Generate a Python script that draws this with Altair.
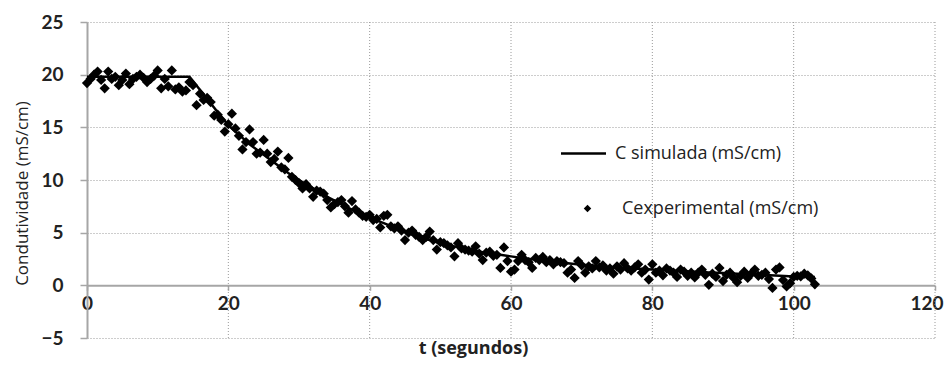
import altair as alt
import pandas as pd

SIM = "C simulada (mS/cm)"
EXP = "Cexperimental (mS/cm)"

# simulated curve
t_sim = [0, 14.5, 15, 16, 17, 18, 19, 20, 21, 22, 23, 24, 25, 26, 27, 28, 29, 30, 32, 34,
         36, 38, 40, 42, 44, 46, 48, 50, 52, 54, 56, 58, 60, 62, 64, 66, 68, 70, 72, 74,
         76, 78, 80, 82, 84, 86, 88, 90, 92, 94, 96, 98, 100, 102, 103]
c_sim = [19.8, 19.8, 19.4, 18.55, 17.7, 16.85, 16.0, 15.2, 14.6, 14.0, 13.4, 12.9, 12.4, 11.9, 11.4, 10.9, 10.4, 10.0, 9.2, 8.4,
         7.7, 7.0, 6.4, 5.9, 5.35, 4.85, 4.4, 4.0, 3.7, 3.4, 3.15, 2.95, 2.75, 2.55, 2.4, 2.25, 2.1, 1.96, 1.85, 1.75,
         1.65, 1.57, 1.5, 1.43, 1.36, 1.3, 1.23, 1.17, 1.1, 1.04, 0.97, 0.91, 0.85, 0.8, 0.78]

# experimental readings, one every 0.5 s from t = 0 to t = 103
c_exp = [
    19.2, 19.6, 20.0, 20.3, 19.5, 18.7, 20.3, 19.6, 19.8, 19.0,
    19.5, 20.1, 19.1, 19.6, 19.8, 20.0, 19.7, 19.3, 19.6, 19.9,
    20.4, 18.7, 19.6, 18.9, 20.4, 18.6, 18.8, 18.4, 18.5, 19.3,
    19.0, 17.1, 18.2, 17.6, 17.8, 17.4, 16.1, 16.2, 15.7, 14.6,
    15.3, 16.3, 14.9, 14.2, 12.9, 13.6, 14.8, 13.6, 12.5, 12.6,
    13.8, 12.5, 11.7, 12.0, 12.7, 11.2, 11.0, 12.1, 10.3, 10.0,
    9.7, 9.2, 9.6, 9.2, 8.4, 9.0, 8.9, 8.7, 8.1, 7.4,
    7.7, 7.9, 8.1, 7.5, 6.9, 8.0, 7.2, 6.9, 6.6, 6.5,
    6.7, 6.2, 6.3, 5.5, 6.6, 6.7, 5.6, 5.4, 5.6, 5.2,
    4.3, 5.0, 5.2, 4.8, 4.6, 4.3, 4.6, 5.1, 4.3, 3.4,
    4.1, 4.0, 3.8, 3.6, 2.75, 4.0, 3.5, 3.4, 3.3, 3.2,
    3.7, 3.0, 2.4, 3.1, 3.2, 2.8, 2.9, 1.65, 3.6, 2.3,
    1.3, 1.5, 2.3, 2.9, 2.4, 2.2, 1.65, 2.6, 2.4, 2.7,
    2.2, 2.4, 2.0, 2.3, 2.2, 2.1, 1.2, 1.5, 0.7, 2.3,
    1.9, 1.2, 1.8, 1.6, 2.3, 1.7, 1.9, 1.4, 1.6, 1.1,
    1.8, 1.5, 2.1, 1.6, 1.4, 1.7, 2.0, 1.2, 1.5, 0.55,
    2.0, 1.2, 1.4, 0.95, 1.6, 1.4, 1.2, 0.8, 1.5, 1.3,
    0.9, 1.2, 0.75, 1.2, 1.5, 1.0, 0.05, 1.1, 0.8, 1.65,
    0.4, 1.0, 1.2, 0.7, 0.3, 0.9, 1.3, 0.7, 1.1, 1.5,
    0.9, 1.0, 1.2, 0.6, -0.25, 1.5, 1.7, 0.5, -0.1, 0.2,
    0.8, 0.9, 0.85, 1.1, 0.95, 0.65, 0.1,
]
t_exp = [i * 0.5 for i in range(len(c_exp))]

x_ticks = [0, 20, 40, 60, 80, 100, 120]
y_ticks = [-5, 0, 5, 10, 15, 20, 25]
x_grid = [20, 40, 60, 80, 100, 120]

W, H = 848, 316
TICK_FONT = "Lato"
TEXT_FONT = "Open Sans"
GRID = "#9a9a9a"
AXIS = "#a6a6a6"

sim_df = pd.DataFrame({"t": t_sim, "c": c_sim, "serie": SIM})
exp_df = pd.DataFrame({"t": t_exp, "c": c_exp, "serie": EXP})
grid_df = pd.DataFrame({"t": x_grid})

xscale = alt.Scale(domain=[0, 120], nice=False, zero=False)
yscale = alt.Scale(domain=[-5, 25], nice=False, zero=False)

grid = alt.Chart(grid_df).mark_rule(color=GRID, strokeDash=[1, 2], strokeWidth=1).encode(
    x=alt.X("t:Q", scale=xscale),
    y=alt.value(0),
    y2=alt.value(H),
)

line = alt.Chart(sim_df).mark_line(strokeWidth=2.5).encode(
    x=alt.X(
        "t:Q",
        scale=xscale,
        axis=alt.Axis(
            values=x_ticks,
            title="t (segundos)",
            offset=-H * 5 / 30,
            grid=False,
            domainColor=AXIS,
            domainWidth=2,
            tickColor=AXIS,
            tickWidth=1.5,
            tickSize=5,
            labelPadding=4,
            labelFont=TICK_FONT,
            labelFontSize=19,
            labelFontWeight="bold",
            labelColor="#222",
            labelFlush=False,
            labelAlign={"condition": {"test": "datum.value == 120", "value": "right"}, "value": "center"},
            labelOffset={"condition": {"test": "datum.value == 120", "value": 8}, "value": 0},
            titleFont=TEXT_FONT,
            titleFontSize=18,
            titleFontWeight="bold",
            titleColor="#222",
            titleX=386,
            titleY=63,
            titleAnchor="middle",
            titleBaseline="middle",
        ),
    ),
    y=alt.Y(
        "c:Q",
        scale=yscale,
        axis=alt.Axis(
            values=y_ticks,
            title="Condutividade (mS/cm)",
            grid=True,
            gridColor=GRID,
            gridDash=[1, 2],
            gridWidth=1,
            domainColor=AXIS,
            domainWidth=2,
            tickColor=AXIS,
            tickWidth=1.5,
            tickSize=7,
            labelPadding=17,
            labelFont=TICK_FONT,
            labelFontSize=19,
            labelFontWeight="bold",
            labelColor="#222",
            titleFont=TEXT_FONT,
            titleFontSize=17,
            titleFontWeight="normal",
            titleColor="#222",
            titleAngle=-90,
            titleX=-65,
            titleY=171,
            titleAlign="center",
            titleBaseline="middle",
        ),
    ),
    color=alt.Color(
        "serie:N",
        scale=alt.Scale(domain=[SIM], range=["black"]),
        legend=alt.Legend(
            title=None,
            orient="none",
            legendX=472.5,
            legendY=107.5,
            padding=0,
            symbolType="stroke",
            symbolSize=2025,
            symbolStrokeColor="black",
            symbolStrokeWidth=2.5,
            labelOffset=7.5,
            labelFont=TEXT_FONT,
            labelFontSize=18,
            labelColor="#222",
            labelLimit=400,
        ),
    ),
)

pts = alt.Chart(exp_df).mark_point(filled=True, color="black", size=105, opacity=1).encode(
    x=alt.X("t:Q", scale=xscale),
    y=alt.Y("c:Q", scale=yscale),
    shape=alt.Shape(
        "serie:N",
        scale=alt.Scale(domain=[EXP], range=["diamond"]),
        legend=alt.Legend(
            title=None,
            orient="none",
            legendX=491.5,
            legendY=177.5,
            padding=0,
            symbolSize=56,
            symbolFillColor="black",
            labelOffset=25.5,
            labelFont=TEXT_FONT,
            labelFontSize=18,
            labelColor="#222",
            labelLimit=400,
        ),
    ),
)

chart = alt.layer(grid, line, pts).resolve_legend(color="independent", shape="independent").properties(
    width=W,
    height=H,
    autosize=alt.AutoSizeParams(type="none"),
    padding={"left": 79, "top": 14, "right": 9, "bottom": 20},
    background="white",
).configure_view(stroke=None)

chart.save("out.html", embed_options={"renderer": "svg", "actions": False})
